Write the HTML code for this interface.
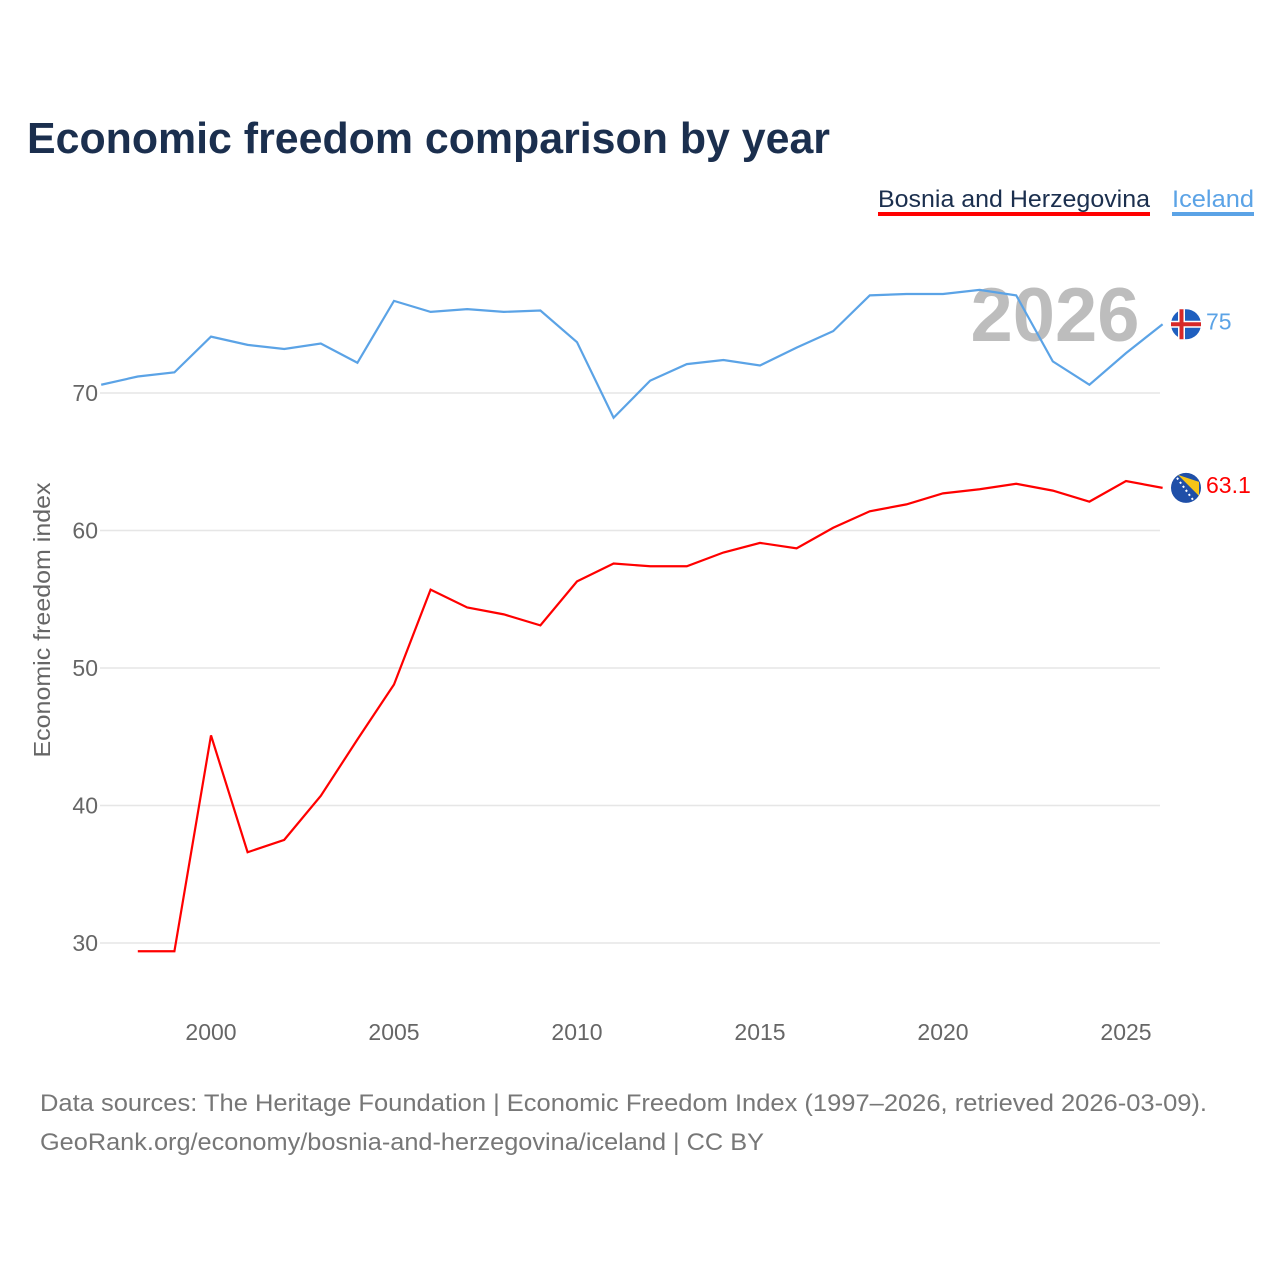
<!DOCTYPE html>
<html><head><meta charset="utf-8"><style>
body{margin:0;background:#fff;font-family:"Liberation Sans",sans-serif;}
svg{display:block}
</style></head><body>
<svg id="chart" width="1280" height="1280" viewBox="0 0 1280 1280">
<text x="27" y="153" font-size="44" font-weight="bold" fill="#1b2f4e" textLength="803" lengthAdjust="spacingAndGlyphs">Economic freedom comparison by year</text>
<g>
<text x="878" y="207" font-size="24" fill="#1b2f4e" textLength="272" lengthAdjust="spacingAndGlyphs">Bosnia and Herzegovina</text>
<rect x="878" y="212" width="272" height="4" fill="#ff0000"/>
<text x="1172" y="207" font-size="24" fill="#5ba3e6" textLength="82" lengthAdjust="spacingAndGlyphs">Iceland</text>
<rect x="1172" y="212" width="82" height="4" fill="#5ba3e6"/>
</g>
<g id="grid"></g>
<text x="1055" y="341" font-size="76" font-weight="bold" fill="#bdbdbd" text-anchor="middle">2026</text>
<text transform="translate(50,620) rotate(-90)" font-size="23" fill="#666" text-anchor="middle" textLength="275" lengthAdjust="spacingAndGlyphs">Economic freedom index</text>
<g id="series"></g>
<text x="40" y="1111" font-size="24" fill="#777" textLength="1167" lengthAdjust="spacingAndGlyphs">Data sources: The Heritage Foundation | Economic Freedom Index (1997–2026, retrieved 2026-03-09).</text>
<text x="40" y="1150" font-size="24" fill="#777" textLength="724" lengthAdjust="spacingAndGlyphs">GeoRank.org/economy/bosnia-and-herzegovina/iceland | CC BY</text>
</svg>
<script>
const yearsIceland=[1997,1998,1999,2000,2001,2002,2003,2004,2005,2006,2007,2008,2009,2010,2011,2012,2013,2014,2015,2016,2017,2018,2019,2020,2021,2022,2023,2024,2025,2026];
const iceland=[70.6,71.2,71.5,74.1,73.5,73.2,73.6,72.2,76.7,75.9,76.1,75.9,76.0,73.7,68.2,70.9,72.1,72.4,72.0,73.3,74.5,77.1,77.2,77.2,77.5,77.1,72.3,70.6,72.9,75.0];
const yearsBosnia=[1998,1999,2000,2001,2002,2003,2004,2005,2006,2007,2008,2009,2010,2011,2012,2013,2014,2015,2016,2017,2018,2019,2020,2021,2022,2023,2024,2025,2026];
const bosnia=[29.4,29.4,45.1,36.6,37.5,40.7,44.8,48.8,55.7,54.4,53.9,53.1,56.3,57.6,57.4,57.4,58.4,59.1,58.7,60.2,61.4,61.9,62.7,63.0,63.4,62.9,62.1,63.6,63.1];
const yTicks=[30,40,50,60,70];
const xTicks=[2000,2005,2010,2015,2020,2025];
const NS="http://www.w3.org/2000/svg";
const xs=y=>211+(y-2000)*36.6;
const ys=v=>393+(70-v)*13.75;
function el(tag,attrs,parent,text){const e=document.createElementNS(NS,tag);for(const k in attrs)e.setAttribute(k,attrs[k]);if(text!==undefined)e.textContent=text;parent.appendChild(e);return e;}
const grid=document.getElementById('grid');
yTicks.forEach(v=>{
 const l=el('line',{x1:100,x2:1160,y1:ys(v),y2:ys(v),stroke:'#e6e6e6','stroke-width':1.5},grid);
 
 
 const t=el('text',{x:98,y:ys(v)+8,'font-size':23,fill:'#666','text-anchor':'end'},grid,String(v));
 
 
});
xTicks.forEach(y=>{
 const t=el('text',{x:xs(y),y:1040,'font-size':23,fill:'#666','text-anchor':'middle'},grid,String(y));
 
 
});
const s=document.getElementById('series');
function line(years,vals,color,name){
 const p=el('polyline',{points:years.map((y,i)=>xs(y)+','+ys(vals[i])).join(' '),fill:'none',stroke:color,'stroke-width':2.2},s);
 
 
}
line(yearsIceland,iceland,'#5ba3e6','iceland-line');
line(yearsBosnia,bosnia,'#ff0000','bosnia-line');
const iy=ys(iceland[iceland.length-1]), by=ys(bosnia[bosnia.length-1]);
const gi=el('g',{},s);


el('circle',{cx:1186,cy:iy,r:15,fill:'#1f5fbf'},gi);
el('rect',{x:1171,y:iy-3.5,width:30,height:7,fill:'#fff'},gi);
el('rect',{x:1178,y:iy-15,width:7,height:30,fill:'#fff'},gi);
el('rect',{x:1171,y:iy-2,width:30,height:4,fill:'#d72828'},gi);
el('rect',{x:1179.5,y:iy-15,width:4,height:30,fill:'#d72828'},gi);
const ti=el('text',{x:1206,y:iy+5,'font-size':23,fill:'#5ba3e6'},s,'75');


const gb=el('g',{},s);


el('circle',{cx:1186,cy:by,r:15,fill:'#1f4fa8'},gb);
el('path',{d:`M1178 ${by-13} L1199 ${by-6} L1199 ${by+8} Z`,fill:'#f5c518'},gb);
el('path',{d:`M1177 ${by-10} L1193 ${by+12}`,stroke:'#fff','stroke-width':2,'stroke-dasharray':'2 3'},gb);
const tb=el('text',{x:1206,y:by+5,'font-size':23,fill:'#ff0000'},s,'63.1');


</script>
</body></html>
